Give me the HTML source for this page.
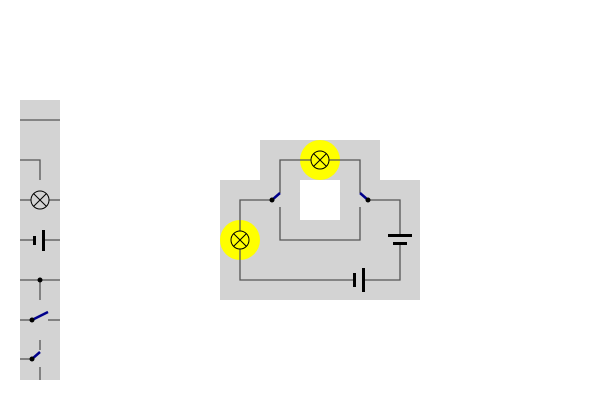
<!DOCTYPE html>
<html><head><meta charset="utf-8"><style>html,body{margin:0;padding:0;background:#fff}svg{display:block}</style></head>
<body>
<svg width="600" height="400" xmlns="http://www.w3.org/2000/svg">
<rect x="20" y="100" width="40" height="280" fill="#d3d3d3"/>
<g stroke="#555" stroke-width="1.3" fill="none">
<line x1="20" y1="120" x2="60" y2="120"/>
<polyline points="20,160 40,160 40,180"/>
<line x1="20" y1="200" x2="31" y2="200"/>
<line x1="49" y1="200" x2="60" y2="200"/>
<line x1="20" y1="240" x2="33" y2="240"/>
<line x1="44" y1="240" x2="60" y2="240"/>
<line x1="20" y1="280" x2="60" y2="280"/>
<line x1="40" y1="280" x2="40" y2="300"/>
<line x1="20" y1="320" x2="32" y2="320"/>
<line x1="48" y1="320" x2="60" y2="320"/>
<line x1="40" y1="340" x2="40" y2="350"/>
<line x1="20" y1="359" x2="32" y2="359"/>
<line x1="40" y1="367" x2="40" y2="380"/>
</g>
<g stroke="#000" stroke-width="1" fill="none">
<circle cx="40" cy="200" r="9"/>
<line x1="33.6" y1="193.6" x2="46.4" y2="206.4"/><line x1="46.4" y1="193.6" x2="33.6" y2="206.4"/>
</g>
<rect x="33" y="236" width="3" height="9" fill="#000"/>
<rect x="42" y="230" width="3" height="21" fill="#000"/>
<circle cx="40" cy="280" r="2.5" fill="#000"/>
<line x1="32" y1="320" x2="48" y2="312" stroke="#00008b" stroke-width="2.5"/>
<circle cx="32" cy="320" r="2.5" fill="#000"/>
<line x1="32" y1="359" x2="40" y2="352" stroke="#00008b" stroke-width="2.5"/>
<circle cx="32" cy="359" r="2.5" fill="#000"/>

<path d="M220,180 H260 V140 H380 V180 H420 V300 H220 Z" fill="#d3d3d3"/>
<rect x="300" y="180" width="40" height="40" fill="#fff"/>
<circle cx="320" cy="160" r="20" fill="#ffff00"/>
<circle cx="240" cy="240" r="20" fill="#ffff00"/>
<g stroke="#555" stroke-width="1.3" fill="none">
<polyline points="311,160 280,160 280,193"/>
<polyline points="329,160 360,160 360,193"/>
<polyline points="280,207 280,240 360,240 360,207"/>
<polyline points="272,200 240,200 240,231"/>
<polyline points="240,249 240,280 355,280"/>
<polyline points="365,280 400,280 400,244"/>
<polyline points="368,200 400,200 400,236"/>
</g>
<g stroke="#000" stroke-width="1" fill="none">
<circle cx="320" cy="160" r="9"/>
<line x1="313.6" y1="153.6" x2="326.4" y2="166.4"/><line x1="326.4" y1="153.6" x2="313.6" y2="166.4"/>
<circle cx="240" cy="240" r="9"/>
<line x1="233.6" y1="233.6" x2="246.4" y2="246.4"/><line x1="246.4" y1="233.6" x2="233.6" y2="246.4"/>
</g>
<line x1="272" y1="200" x2="280" y2="193" stroke="#00008b" stroke-width="2.5"/>
<circle cx="272" cy="200" r="2.5" fill="#000"/>
<line x1="368" y1="200" x2="360" y2="193" stroke="#00008b" stroke-width="2.5"/>
<circle cx="368" cy="200" r="2.5" fill="#000"/>
<rect x="388" y="234" width="24" height="3" fill="#000"/>
<rect x="393" y="242" width="14" height="3" fill="#000"/>
<rect x="353" y="273" width="3" height="14" fill="#000"/>
<rect x="362" y="268" width="3" height="24" fill="#000"/>
</svg>
</body></html>
